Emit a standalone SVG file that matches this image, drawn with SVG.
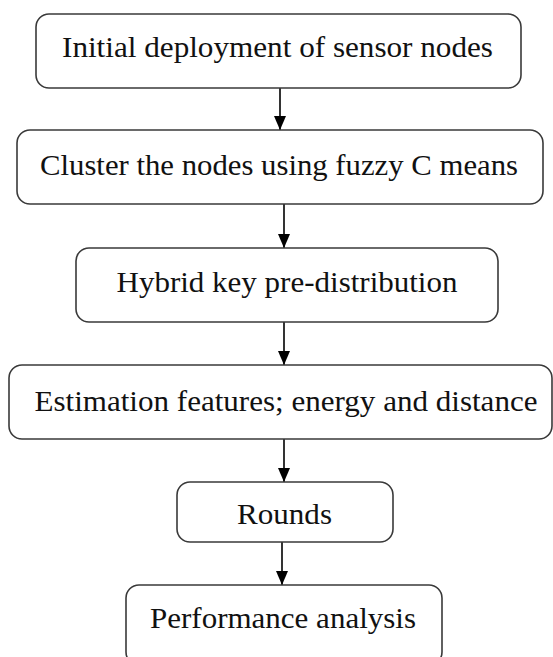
<svg xmlns="http://www.w3.org/2000/svg" width="553" height="657" viewBox="0 0 553 657">
<style>
.box{fill:#fff;stroke:#3a3a3a;stroke-width:1.6}
.t{font-family:"Liberation Serif","Times New Roman",serif;font-size:30px;fill:#111;text-anchor:middle}
.c{stroke:#000;stroke-width:1.6;fill:none}
</style>
<rect width="553" height="657" fill="#fff"/>
<g id="connectors">
<line class="c" x1="280" y1="88" x2="280" y2="130"/>
<path d="M274,116 L286,116 L280,130 Z" fill="#000"/>
<line class="c" x1="284" y1="204" x2="284" y2="248"/>
<path d="M278,234 L290,234 L284,248 Z" fill="#000"/>
<line class="c" x1="284" y1="322" x2="284" y2="365"/>
<path d="M278,351 L290,351 L284,365 Z" fill="#000"/>
<line class="c" x1="284" y1="439" x2="284" y2="482"/>
<path d="M278,468 L290,468 L284,482 Z" fill="#000"/>
<line class="c" x1="282" y1="542" x2="282" y2="585"/>
<path d="M276,571 L288,571 L282,585 Z" fill="#000"/>
</g>
<g id="n1"><rect class="box" x="36" y="14" width="485" height="74" rx="13"/><text class="t" x="277.5" y="57" textLength="431" lengthAdjust="spacingAndGlyphs">Initial deployment of sensor nodes</text></g>
<g id="n2"><rect class="box" x="17" y="130" width="526" height="74" rx="13"/><text class="t" x="279" y="175" textLength="478" lengthAdjust="spacingAndGlyphs">Cluster the nodes using fuzzy C means</text></g>
<g id="n3"><rect class="box" x="76" y="248" width="422" height="74" rx="13"/><text class="t" x="287" y="292" textLength="341" lengthAdjust="spacingAndGlyphs">Hybrid key pre-distribution</text></g>
<g id="n4"><rect class="box" x="9" y="365" width="543" height="74" rx="13"/><text class="t" x="286" y="411" textLength="503" lengthAdjust="spacingAndGlyphs">Estimation features; energy and distance</text></g>
<g id="n5"><rect class="box" x="177" y="482" width="216" height="60" rx="13"/><text class="t" x="284.5" y="524" textLength="95" lengthAdjust="spacingAndGlyphs">Rounds</text></g>
<g id="n6"><rect class="box" x="126" y="585" width="316" height="80" rx="13"/><text class="t" x="283" y="628" textLength="266" lengthAdjust="spacingAndGlyphs">Performance analysis</text></g>
</svg>
